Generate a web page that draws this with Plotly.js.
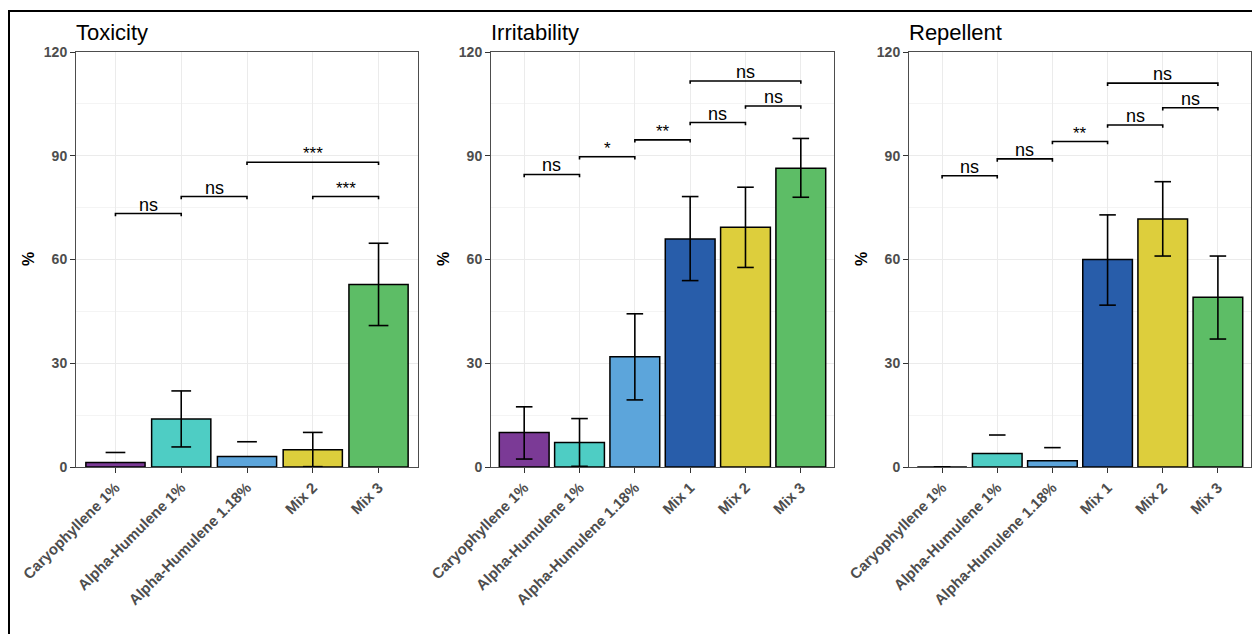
<!DOCTYPE html>
<html><head><meta charset="utf-8">
<script src="https://cdn.plot.ly/plotly-3.0.1.min.js"></script>
<style>html,body{margin:0;padding:0;background:#fff}#chart{width:1252px;height:634px}</style>
</head><body><div id="chart"></div>
<script>
// ---------- data ----------
const panelTitles = ["Toxicity", "Irritability", "Repellent"];
const yTickVals = [0, 30, 60, 90, 120];

const toxCategories = ["Caryophyllene 1%", "Alpha-Humulene 1%", "Alpha-Humulene 1.18%", "Mix 2", "Mix 3"];
const toxMean  = [1.3, 13.9, 3.0, 5.0, 52.8];
const toxUpper = [4.2, 22.0, 7.3, 10.0, 64.7];
const toxLower = [-1.6, 5.8, -1.3, 0.1, 40.9];
const toxSigFrom  = [0, 1, 2, 3];
const toxSigTo    = [1, 2, 4, 4];
const toxSigY     = [73.3, 78.2, 88.1, 78.2];
const toxSigLabel = ["ns", "ns", "***", "***"];

const irrCategories = ["Caryophyllene 1%", "Alpha-Humulene 1%", "Alpha-Humulene 1.18%", "Mix 1", "Mix 2", "Mix 3"];
const irrMean  = [10.0, 7.1, 31.9, 65.9, 69.3, 86.4];
const irrUpper = [17.4, 14.0, 44.3, 78.2, 80.9, 95.0];
const irrLower = [2.3, 0.2, 19.4, 53.9, 57.7, 78.0];
const irrSigFrom  = [0, 1, 2, 3, 4, 3];
const irrSigTo    = [1, 2, 3, 4, 5, 5];
const irrSigY     = [84.6, 89.7, 94.6, 99.6, 104.4, 111.6];
const irrSigLabel = ["ns", "*", "**", "ns", "ns", "ns"];

const repCategories = ["Caryophyllene 1%", "Alpha-Humulene 1%", "Alpha-Humulene 1.18%", "Mix 1", "Mix 2", "Mix 3"];
const repMean  = [0.0, 3.9, 1.8, 60.0, 71.7, 49.1];
const repUpper = [0.0, 9.25, 5.6, 72.9, 82.5, 61.0];
const repLower = [0.0, -1.45, -2.0, 46.8, 61.0, 37.0];
const repSigFrom  = [0, 1, 2, 3, 4, 3];
const repSigTo    = [1, 2, 3, 4, 5, 5];
const repSigY     = [84.2, 89.1, 94.1, 98.9, 103.9, 111.0];
const repSigLabel = ["ns", "ns", "**", "ns", "ns", "ns"];

const categoryColors = {
  "Caryophyllene 1%": "#7B3A96",
  "Alpha-Humulene 1%": "#4ECDC4",
  "Alpha-Humulene 1.18%": "#5CA5DB",
  "Mix 1": "#285DAA",
  "Mix 2": "#DDCE3C",
  "Mix 3": "#5DBD66"
};

// ---------- styling ----------
const FONT = "Liberation Sans, Arial, Helvetica, sans-serif";
const W = 1252, H = 634;
const xDomainsPx = [[76, 418], [491, 834], [909, 1251]];
const yTopPx = 52, yBotPx = 467;
const capHalf = 0.15, tip = 0.8;

const panels = [
  {cats: toxCategories, mean: toxMean, up: toxUpper, lo: toxLower, sf: toxSigFrom, st: toxSigTo, sy: toxSigY, sl: toxSigLabel},
  {cats: irrCategories, mean: irrMean, up: irrUpper, lo: irrLower, sf: irrSigFrom, st: irrSigTo, sy: irrSigY, sl: irrSigLabel},
  {cats: repCategories, mean: repMean, up: repUpper, lo: repLower, sf: repSigFrom, st: repSigTo, sy: repSigY, sl: repSigLabel}
];

const traces = [];
const annotations = [];
const layout = {
  width: W, height: H,
  margin: {l: 0, r: 0, t: 0, b: 0},
  paper_bgcolor: "#fff", plot_bgcolor: "#fff",
  showlegend: false,
  font: {family: FONT},
  shapes: [{
    type: "rect", xref: "paper", yref: "paper",
    x0: 9 / W, x1: 1.01, y0: -0.05, y1: 1 - 11 / H,
    line: {color: "#000", width: 2}, fillcolor: "rgba(0,0,0,0)", layer: "above"
  }],
  annotations: annotations
};

panels.forEach((p, k) => {
  const sfx = k === 0 ? "" : String(k + 1);
  const xa = "x" + sfx, ya = "y" + sfx;
  const xs = p.cats.map((c, i) => i);

  traces.push({
    type: "bar", x: xs, y: p.mean, xaxis: xa, yaxis: ya, width: 0.9,
    marker: {color: p.cats.map(c => categoryColors[c]), line: {color: "#000", width: 1.5}},
    hoverinfo: "skip"
  });

  // error bars (lower below axis limit is dropped, leaving only the top cap)
  const ex = [], ey = [];
  xs.forEach((x, i) => {
    ex.push(x - capHalf, x + capHalf, null); ey.push(p.up[i], p.up[i], null);
    if (p.lo[i] >= 0) {
      ex.push(x, x, null, x - capHalf, x + capHalf, null);
      ey.push(p.up[i], p.lo[i], null, p.lo[i], p.lo[i], null);
    }
  });
  traces.push({type: "scatter", mode: "lines", x: ex, y: ey, xaxis: xa, yaxis: ya,
    line: {color: "#000", width: 1.6}, hoverinfo: "skip", connectgaps: false});

  // significance brackets
  const bx = [], by = [];
  p.sf.forEach((a, j) => {
    const b = p.st[j], y = p.sy[j];
    bx.push(a, a, b, b, null); by.push(y - tip, y, y, y - tip, null);
    annotations.push({
      xref: xa, yref: ya, x: (a + b) / 2, y: y, yanchor: "bottom", xanchor: "center",
      text: p.sl[j], showarrow: false, yshift: -3,
      font: {family: FONT, size: p.sl[j] === "ns" ? 18 : 17, color: "#000"}
    });
  });
  traces.push({type: "scatter", mode: "lines", x: bx, y: by, xaxis: xa, yaxis: ya,
    line: {color: "#000", width: 1.6}, hoverinfo: "skip", connectgaps: false});

  const dom = xDomainsPx[k];
  layout["xaxis" + sfx] = {
    domain: [dom[0] / W, dom[1] / W], anchor: ya,
    range: [-0.6, p.cats.length - 0.4],
    tickvals: xs, ticktext: p.cats, tickangle: -45,
    showgrid: true, gridcolor: "#ebebeb", gridwidth: 1, zeroline: false,
    showline: true, mirror: true, linecolor: "#4d4d4d", linewidth: 1,
    ticks: "outside", ticklen: 5, tickcolor: "#333", tickwidth: 1,
    tickfont: {family: FONT, size: 15, color: "#4d4d4d", weight: "bold"},
    fixedrange: true
  };
  layout["yaxis" + sfx] = {
    domain: [(H - yBotPx) / H, (H - yTopPx) / H], anchor: xa,
    range: [0, 120], tickvals: yTickVals,
    showgrid: true, gridcolor: "#ebebeb", gridwidth: 1, zeroline: false,
    minor: {dtick: 15, tick0: 0, showgrid: true, gridcolor: "#f4f4f4", gridwidth: 1},
    showline: true, mirror: true, linecolor: "#4d4d4d", linewidth: 1,
    ticks: "outside", ticklen: 5, tickcolor: "#333", tickwidth: 1,
    tickfont: {family: FONT, size: 14, color: "#4d4d4d", weight: "bold"},
    fixedrange: true
  };

  annotations.push({
    xref: "paper", yref: "paper", x: (dom[0] - 2) / W, y: 1 - 32 / H,
    xanchor: "left", yanchor: "middle", showarrow: false,
    text: panelTitles[k], font: {family: FONT, size: 22, color: "#000"}
  });
  annotations.push({
    xref: "paper", yref: "paper", x: (dom[0] - 48) / W, y: 1 - 259 / H,
    xanchor: "center", yanchor: "middle", showarrow: false, textangle: -90,
    text: "%", font: {family: FONT, size: 16, color: "#000", weight: "bold"}
  });
});

Plotly.newPlot("chart", traces, layout, {displayModeBar: false, staticPlot: true});
</script></body></html>
